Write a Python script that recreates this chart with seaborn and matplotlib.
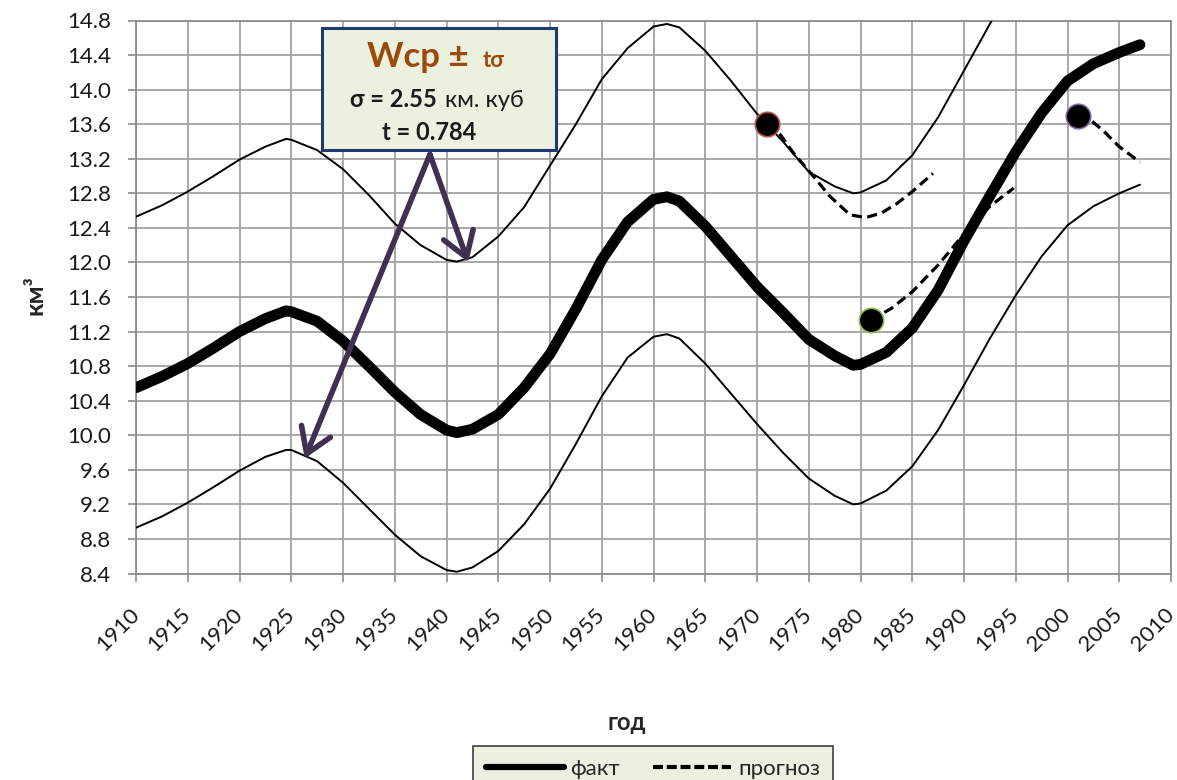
import numpy as np
import pandas as pd
import matplotlib
matplotlib.use('Agg')
import matplotlib.pyplot as plt
import seaborn as sns
from matplotlib.lines import Line2D
from matplotlib.patches import Rectangle

# ---------------- data ----------------
years = [1910, 1912.5, 1915, 1917.5, 1920, 1922.5, 1924.5, 1925, 1927.5, 1930,
         1932.5, 1935, 1937.5, 1940, 1941, 1942.5, 1945, 1947.5, 1950, 1952.5,
         1955, 1957.5, 1960, 1961.3, 1962.5, 1965, 1967.5, 1970, 1972.5, 1975,
         1977.5, 1979.3, 1980, 1982.5, 1985, 1987.5, 1990, 1992.5, 1995, 1997.5,
         2000, 2002.5, 2005, 2007]
fact = [10.55, 10.68, 10.83, 11.01, 11.20, 11.35, 11.44, 11.43, 11.32, 11.09,
        10.80, 10.50, 10.24, 10.06, 10.03, 10.07, 10.24, 10.55, 10.94, 11.46,
        12.03, 12.47, 12.73, 12.76, 12.71, 12.42, 12.07, 11.72, 11.42, 11.11,
        10.92, 10.81, 10.82, 10.96, 11.24, 11.68, 12.25, 12.77, 13.28, 13.73,
        14.10, 14.30, 14.43, 14.52]
upper_years = [1910, 1912.5, 1915, 1917.5, 1920, 1922.5, 1924.5, 1925, 1927.5, 1930,
               1932.5, 1935, 1937.5, 1940, 1941, 1942.5, 1945, 1947.5, 1950, 1952.5,
               1955, 1957.5, 1960, 1961.3, 1962.5, 1965, 1967.5, 1970, 1972.5, 1975,
               1977.5, 1979.3, 1980, 1982.5, 1985, 1987.5, 1990, 1992.5, 1995]
upper = [12.53, 12.66, 12.82, 13.00, 13.19, 13.34, 13.43, 13.42, 13.30, 13.08,
         12.78, 12.45, 12.20, 12.03, 12.01, 12.06, 12.30, 12.64, 13.12, 13.60,
         14.12, 14.48, 14.73, 14.76, 14.72, 14.45, 14.10, 13.72, 13.40, 13.05,
         12.88, 12.80, 12.81, 12.95, 13.24, 13.68, 14.22, 14.76, 15.28]
lower = [8.93, 9.06, 9.22, 9.40, 9.59, 9.75, 9.83, 9.83, 9.70, 9.45,
         9.15, 8.85, 8.60, 8.44, 8.42, 8.47, 8.66, 8.97, 9.38, 9.90,
         10.45, 10.90, 11.14, 11.17, 11.12, 10.83, 10.48, 10.13, 9.80, 9.50,
         9.30, 9.20, 9.21, 9.36, 9.64, 10.06, 10.58, 11.12, 11.62, 12.07,
         12.43, 12.65, 12.80, 12.90]

f1_years = [1971, 1972, 1973.5, 1975.5, 1977, 1979, 1980.5, 1982, 1983.5, 1985, 1987]
f1_vals = [13.60, 13.52, 13.27, 12.99, 12.77, 12.55, 12.52, 12.57, 12.68, 12.82, 13.03]
f2_years = [1981, 1983, 1985, 1987.5, 1990, 1992.5, 1994.8]
f2_vals = [11.33, 11.47, 11.66, 11.97, 12.33, 12.65, 12.86]
f3_years = [2001, 2002.2, 2003.5, 2005, 2007]
f3_vals = [13.70, 13.65, 13.52, 13.34, 13.16]

dot_years = [1971, 1981, 2001]
dot_vals = [13.60, 11.33, 13.70]
dot_edges = ['#C0504D', '#9BBB59', '#8064A2']

x_ticks = list(range(1910, 2011, 5))
y_ticks = [8.4, 8.8, 9.2, 9.6, 10.0, 10.4, 10.8, 11.2, 11.6, 12.0, 12.4, 12.8,
           13.2, 13.6, 14.0, 14.4, 14.8]
legend_labels = ['факт', 'прогноз']

# ---------------- style ----------------
sns.set_theme(style='whitegrid')
plt.rcParams['font.family'] = ['Lato', 'Open Sans', 'DejaVu Sans']

W, H = 1177, 780
AX_L, AX_R, AX_T, AX_B = 136, 1171, 20.5, 573.5
fig = plt.figure(figsize=(W / 100, H / 100), dpi=100)
fig.patch.set_facecolor('white')
ax = fig.add_axes([AX_L / W, 1 - AX_B / H, (AX_R - AX_L) / W, (AX_B - AX_T) / H])
ax.set_facecolor('white')

grid_c = '#A3A3A3'
ax.grid(True, color=grid_c, lw=1.3)
for s in ax.spines.values():
    s.set_color('#8C8C8C')
    s.set_linewidth(1.3)

# lines
sns.lineplot(x=upper_years, y=upper, ax=ax, color='black', lw=1.4, zorder=3)
sns.lineplot(x=years, y=lower, ax=ax, color='black', lw=1.4, zorder=3)
dash = (0, (3.2, 1.7))
for fy, fv in [(f1_years, f1_vals), (f2_years, f2_vals), (f3_years, f3_vals)]:
    sns.lineplot(x=fy, y=fv, ax=ax, color='black', lw=2.3, linestyle=dash, zorder=4)
sns.lineplot(x=years, y=fact, ax=ax, color='black', lw=7.8, zorder=5,
             solid_capstyle='round', solid_joinstyle='round')
for xv, yv, ec in zip(dot_years, dot_vals, dot_edges):
    sns.scatterplot(x=[xv], y=[yv], ax=ax, s=310, color='black', edgecolor=ec,
                    linewidth=1.2, zorder=7)

ax.set_xlim(1910, 2010)
ax.set_ylim(8.4, 14.8)
ax.set_xticks(x_ticks)
ax.set_xticklabels([str(v) for v in x_ticks], rotation=45, ha='right', va='center',
                   rotation_mode='anchor')
ax.set_yticks(y_ticks)
ax.set_yticklabels([f'{v:.1f}' for v in y_ticks])
ax.tick_params(axis='both', bottom=True, left=True, length=6, width=1.2,
               color='#8C8C8C', labelsize=16, labelcolor='#1A1A1A')
ax.tick_params(axis='y', pad=12)
ax.tick_params(axis='x', pad=21)
ax.set_xlabel('')
ax.set_ylabel('')

# axis titles
fig.text(35 / W, 1 - 295 / H, 'км³', rotation=90, fontweight='bold', fontsize=18,
         ha='center', va='center')
fig.text(627 / W, 1 - 722 / H, 'год', fontweight='bold', fontsize=17,
         ha='center', va='center')

# annotation box
def axf(px, py):
    return (px - AX_L) / (AX_R - AX_L), (AX_B - py) / (AX_B - AX_T)

x0, y0 = axf(322, 150)
x1, y1 = axf(556, 28)
ax.add_patch(Rectangle((x0, y0), x1 - x0, y1 - y0, transform=ax.transAxes,
                       facecolor='#EBF1DE', edgecolor='#1F3B73', lw=2.2,
                       zorder=10, clip_on=False))
brown = '#9C4A0A'
tx, ty = axf(469, 67)
ax.text(tx, ty, 'Wcp ±', transform=ax.transAxes, ha='right', va='baseline',
        fontsize=25, fontweight='bold', color=brown, zorder=11)
tx, ty = axf(483, 67)
ax.text(tx, ty, 'tσ', transform=ax.transAxes, ha='left', va='baseline',
        fontsize=16, fontweight='bold', color=brown, zorder=11)
tx, ty = axf(437, 107)
ax.text(tx, ty, 'σ = 2.55', transform=ax.transAxes, ha='right', va='baseline',
        fontsize=17, fontweight='bold', color='#1A1A1A', zorder=11)
tx, ty = axf(445, 107)
ax.text(tx, ty, 'км. куб', transform=ax.transAxes, ha='left', va='baseline',
        fontsize=17, color='#1A1A1A', zorder=11)
tx, ty = axf(429, 140)
ax.text(tx, ty, 't = 0.784', transform=ax.transAxes, ha='center', va='baseline',
        fontsize=17, fontweight='bold', color='#1A1A1A', zorder=11)

# arrows
arrow_c = '#403152'
start = (1938.4, 13.25)
for tip in [(1926.3, 9.73), (1942.1, 12.0)]:
    ax.annotate('', xy=tip, xytext=start,
                arrowprops=dict(arrowstyle='->,head_length=0.7,head_width=0.45',
                                lw=4, color=arrow_c, shrinkA=0, shrinkB=0,
                                mutation_scale=25),
                zorder=9)

# legend
handles = [Line2D([0], [0], color='black', lw=4.5),
           Line2D([0], [0], color='black', lw=3, linestyle=(0, (2.4, 0.9)))]
leg = fig.legend(handles=handles, labels=legend_labels, loc='center',
                 bbox_to_anchor=(653 / W, 1 - 769 / H), ncol=2, frameon=True,
                 fancybox=False, facecolor='#EBF1DE', edgecolor='#3F3F3F',
                 fontsize=16, handlelength=3.5, columnspacing=1.5,
                 handletextpad=0.3, borderpad=0.6, borderaxespad=0)
leg.get_frame().set_linewidth(1.2)
leg.get_frame().set_alpha(1)

fig.savefig('out.png', dpi=100)
